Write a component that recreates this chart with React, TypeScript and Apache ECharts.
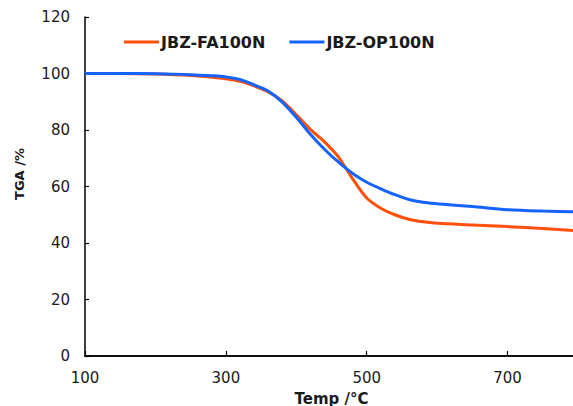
import React, { useEffect, useRef } from "react";
import * as echarts from "echarts";

const temps = [100, 150, 200, 250, 280, 300, 320, 340, 360, 380, 400, 420, 440, 460, 480, 500, 520, 540, 560, 580, 600, 650, 700, 750, 800];
const fa100n = [100, 100, 99.8, 99.3, 98.7, 98.1, 97.2, 95.6, 93.5, 90.3, 85.4, 80.2, 75.8, 70.4, 62.7, 55.9, 52.3, 50.0, 48.4, 47.5, 47.0, 46.4, 45.8, 45.1, 44.3];
const op100n = [100, 100, 99.9, 99.6, 99.2, 98.8, 97.9, 96.0, 93.8, 89.9, 84.5, 78.5, 73.2, 68.6, 64.6, 61.5, 59.2, 57.1, 55.4, 54.4, 53.9, 52.9, 51.8, 51.3, 51.0];
const seriesNames = ["JBZ-FA100N", "JBZ-OP100N"];
const seriesColors = ["#FF500A", "#1463FF"];
const xTitle = "Temp /°C";
const yTitle = "TGA /%";

export default function App() {
  const ref = useRef<HTMLDivElement>(null);
  useEffect(() => {
    if (!ref.current) return;
    const chart = echarts.init(ref.current, null, { renderer: "svg" });
    const font = "'DejaVu Sans', sans-serif";
    const toPairs = (ys: number[]) => temps.map((t, i) => [t, ys[i]]);
    chart.setOption({
      animation: false,
      backgroundColor: "#ffffff",
      textStyle: { fontFamily: font },
      grid: { left: 85, top: 17, width: 493, height: 339, containLabel: false, outerBoundsMode: "none" },
      legend: {
        left: 119,
        top: 29,
        itemGap: 24,
        itemWidth: 35,
        itemHeight: 3,
        icon: "rect",
        textStyle: { fontSize: 16, fontWeight: "bold", color: "#1a1a1a", fontFamily: font, padding: [0, 0, 0, -3] },
        data: seriesNames,
      },
      graphic: [
        {
          type: "text",
          x: 19,
          y: 174,
          rotation: Math.PI / 2,
          style: {
            text: yTitle,
            fontSize: 13,
            fontWeight: "bold",
            fontFamily: font,
            fill: "#1a1a1a",
            textAlign: "center",
            textVerticalAlign: "middle",
          },
        },
      ],
      xAxis: [
        {
          type: "value",
          min: 100,
          max: 800,
          interval: 200,
          position: "bottom",
          axisLine: { show: true, onZero: false, lineStyle: { color: "#000", width: 1.5 } },
          axisTick: { show: true, inside: true, length: 5, lineStyle: { color: "#000", width: 1.2 } },
          splitLine: { show: false },
          axisLabel: { fontSize: 15, color: "#1a1a1a", margin: 14, fontFamily: font, showMaxLabel: false },
          name: xTitle,
          nameLocation: "middle",
          nameGap: 35,
          nameTextStyle: { fontSize: 15, fontWeight: "bold", color: "#1a1a1a", fontFamily: font },
        },
        {
          type: "value",
          min: 100,
          max: 800,
          position: "top",
          axisLine: { show: true, lineStyle: { color: "#000", width: 1.5 } },
          axisTick: { show: false },
          axisLabel: { show: false },
          splitLine: { show: false },
        },
      ],
      yAxis: {
        type: "value",
        min: 0,
        max: 120,
        interval: 20,
        axisLine: { show: true, lineStyle: { color: "#000", width: 1.5 } },
        axisTick: { show: true, inside: true, length: 4, lineStyle: { color: "#000", width: 1.2 } },
        splitLine: { show: false },
        axisLabel: { fontSize: 15, color: "#1a1a1a", margin: 15, fontFamily: font },
      },
      series: [
        {
          name: seriesNames[0],
          type: "line",
          data: toPairs(fa100n),
          smooth: 0.3,
          showSymbol: false,
          symbol: "none",
          color: seriesColors[0],
          lineStyle: { width: 3, color: seriesColors[0] },
          z: 2,
        },
        {
          name: seriesNames[1],
          type: "line",
          data: toPairs(op100n),
          smooth: 0.3,
          showSymbol: false,
          symbol: "none",
          color: seriesColors[1],
          lineStyle: { width: 3, color: seriesColors[1] },
          z: 3,
        },
      ],
    });
    return () => chart.dispose();
  }, []);
  return (
    <div
      ref={ref}
      style={{ position: "fixed", left: 0, top: 0, width: 573, height: 406, overflow: "hidden", background: "#fff" }}
    />
  );
}
